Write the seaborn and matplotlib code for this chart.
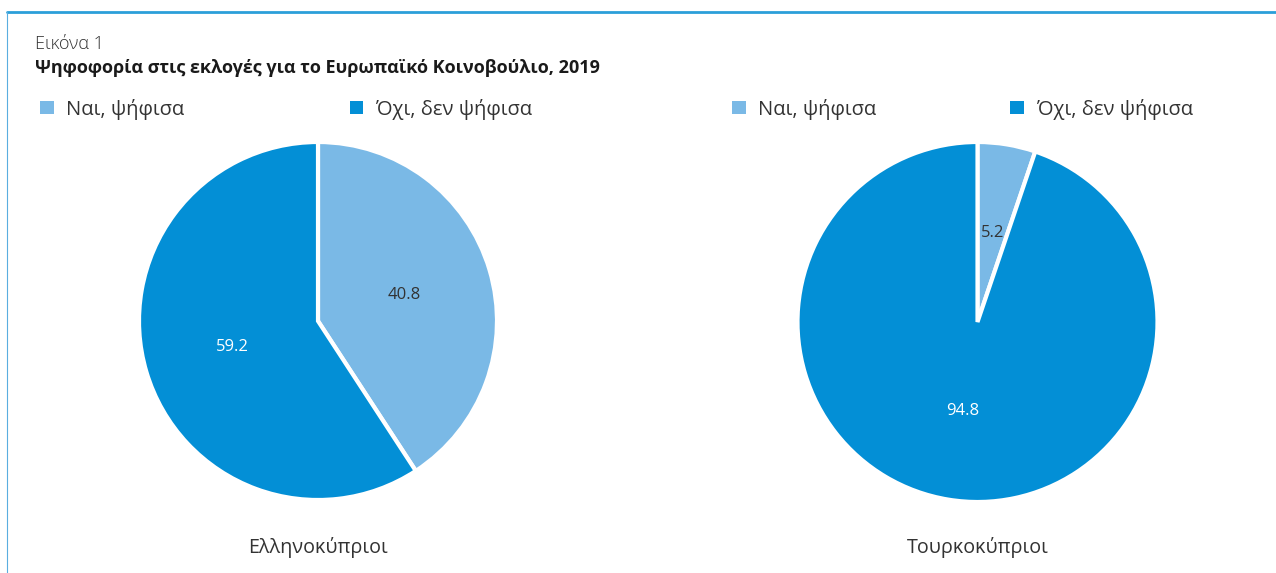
import matplotlib
matplotlib.use("Agg")
import matplotlib.pyplot as plt
import seaborn as sns
from matplotlib.lines import Line2D
from matplotlib.patches import Patch

# ---- data ----
categories = ["Ναι, ψήφισα", "Όχι, δεν ψήφισα"]
groups = ["Ελληνοκύπριοι", "Τουρκοκύπριοι"]
greek_cypriots = [40.8, 59.2]
turkish_cypriots = [5.2, 94.8]
fig_label = "Εικόνα 1"
title = "Ψηφοφορία στις εκλογές για το Ευρωπαϊκό Κοινοβούλιο, 2019"

sns.set_theme(style="white")
plt.rcParams["font.family"] = ["Open Sans", "DejaVu Sans"]

colors = sns.color_palette(["#7ab9e6", "#038fd6"])
text_dark = "#333333"

W, H = 1276, 573
fig = plt.figure(figsize=(W / 100, H / 100), dpi=100)
fig.patch.set_facecolor("white")

# frame lines (top and left)
border = "#2b9fd9"
fig.add_artist(Line2D([7 / W, 1], [1 - 12 / H, 1 - 12 / H], color=border, lw=2, transform=fig.transFigure))
fig.add_artist(Line2D([7 / W, 7 / W], [0, 1 - 12 / H], color="#5aaee0", lw=0.8, transform=fig.transFigure))

fig.text(35 / W, 1 - 44 / H, fig_label, fontsize=13, color=text_dark, va="center", ha="left", fontweight="light")
fig.text(35 / W, 1 - 68 / H, title, fontsize=12.95, color="#1a1a1a", va="center", ha="left", fontweight="bold")

handles = [Patch(facecolor=c, edgecolor="none") for c in colors]


def draw_pie(cx, cy, r, values, group, legend_x, colspace):
    ax = fig.add_axes([(cx - r) / W, 1 - (cy + r) / H, 2 * r / W, 2 * r / H])
    wedges, texts, autotexts = ax.pie(
        values,
        colors=colors,
        startangle=90,
        counterclock=False,
        autopct=lambda p: f"{p:.1f}",
        pctdistance=0.5,
        wedgeprops=dict(edgecolor="white", linewidth=3),
        textprops=dict(fontsize=12),
    )
    autotexts[0].set_color(text_dark)
    autotexts[1].set_color("white")
    ax.set_xlim(-1, 1)
    ax.set_ylim(-1, 1)
    ax.set_aspect("equal")
    ax.axis("off")
    fig.text(cx / W, 1 - 547 / H, group, fontsize=14.2, color=text_dark, ha="center", va="center")
    leg = fig.legend(
        handles, categories,
        loc="center left",
        bbox_to_anchor=(legend_x / W, 1 - 109 / H),
        ncol=2, frameon=False,
        fontsize=14.5,
        handlelength=0.68, handleheight=0.68,
        handletextpad=0.62,
        columnspacing=colspace,
        borderaxespad=0, borderpad=0,
    )
    for t in leg.get_texts():
        t.set_color(text_dark)
    return ax


draw_pie(318, 321, 179, greek_cypriots, groups[0], 40, 8.2)
draw_pie(977.5, 322, 180, turkish_cypriots, groups[1], 732, 6.65)

fig.savefig("out.png", dpi=100, facecolor="white")
